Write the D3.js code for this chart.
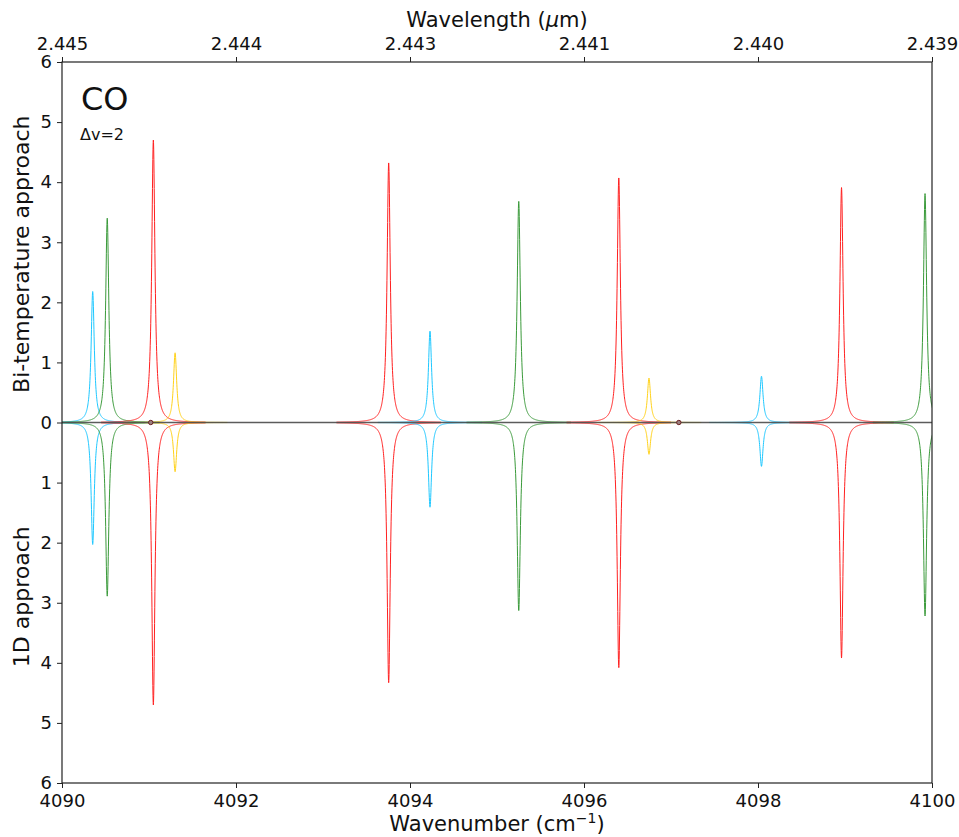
<!DOCTYPE html>
<html>
<head>
<meta charset="utf-8">
<script src="https://cdn.jsdelivr.net/npm/d3@7"></script>
<style>
  body { margin: 0; background: #fff; }
  text { font-family: "DejaVu Sans", sans-serif; fill: #111; }
</style>
</head>
<body>
<div id="container"></div>
<script>
const width = 959; // page size
const height = 837;
const marginLeft = 62;
const marginRight = 27;
const marginTop = 62;
const marginBottom = 54;

// line list (wavenumber in cm-1)
const lineCenters = [4090.353, 4090.52, 4091.05, 4091.30, 4093.755, 4094.23, 4095.25, 4096.40, 4096.747, 4098.04, 4098.96, 4099.92];
const lineColors = ["#1ec8ff", "#3a9a3a", "#ff2020", "#ffd21a", "#ff2020", "#1ec8ff", "#3a9a3a", "#ff2020", "#ffd21a", "#1ec8ff", "#ff2020", "#3a9a3a"];
// peak heights, upper panel (bi-temperature) and lower panel (1D)
const biTempHeights = [2.18, 3.40, 4.70, 1.16, 4.32, 1.52, 3.68, 4.07, 0.74, 0.77, 3.91, 3.81];
const oneDHeights = [2.03, 2.89, 4.70, 0.82, 4.33, 1.41, 3.13, 4.08, 0.53, 0.73, 3.92, 3.22];
const halfWidth = 0.022; // HWHM of each line, cm-1
// tiny lines of a weak species sitting on the baseline
const weakCenters = [4091.02, 4097.09];

const xTicks = [4090, 4092, 4094, 4096, 4098, 4100];
const yTicks = [-6, -5, -4, -3, -2, -1, 0, 1, 2, 3, 4, 5, 6];

const x = d3.scaleLinear()
  .domain([4090, 4100])
  .range([marginLeft, width - marginRight]);

const y = d3.scaleLinear()
  .domain([-6, 6])
  .range([height - marginBottom, marginTop]);

const svg = d3.select("div#container").append("svg")
  .attr("width", width)
  .attr("height", height)
  .attr("viewBox", [0, 0, width, height]);

svg.append("clipPath")
  .attr("id", "plotArea")
  .append("rect")
  .attr("x", marginLeft)
  .attr("y", marginTop)
  .attr("width", width - marginLeft - marginRight)
  .attr("height", height - marginTop - marginBottom);

// Lorentzian profile of one line, sampled around its centre
function profile(center, peak, sign) {
  const pts = d3.range(-0.6, 0.6001, 0.002).map(d => {
    const v = peak * halfWidth * halfWidth / (halfWidth * halfWidth + d * d);
    return [center + d, sign * v];
  });
  return pts;
}

const line = d3.line()
  .x(d => x(d[0]))
  .y(d => y(d[1]));

const curves = svg.append("g")
  .attr("clip-path", "url(#plotArea)")
  .attr("fill", "none")
  .attr("stroke-width", 1);

lineCenters.forEach((c, i) => {
  curves.append("path")
    .attr("d", line(profile(c, biTempHeights[i], 1)))
    .attr("stroke", lineColors[i]);
  curves.append("path")
    .attr("d", line(profile(c, oneDHeights[i], -1)))
    .attr("stroke", lineColors[i]);
});

// zero line, over the far wings
svg.append("line")
  .attr("x1", marginLeft)
  .attr("x2", width - marginRight)
  .attr("y1", y(0))
  .attr("y2", y(0))
  .attr("stroke", "#4a4a4a")
  .attr("stroke-opacity", 0.9)
  .attr("stroke-width", 1.6);

svg.append("g")
  .selectAll("circle")
  .data(weakCenters)
  .join("circle")
  .attr("cx", d => x(d))
  .attr("cy", y(0))
  .attr("r", 2.2)
  .attr("fill", "#9a8080")
  .attr("stroke", "#6a2020")
  .attr("stroke-width", 1);

// frame
svg.append("rect")
  .attr("x", marginLeft)
  .attr("y", marginTop)
  .attr("width", width - marginLeft - marginRight)
  .attr("height", height - marginTop - marginBottom)
  .attr("fill", "none")
  .attr("stroke", "#222")
  .attr("stroke-width", 1.2);

function styleAxis(g) {
  g.select(".domain").remove();
  g.selectAll(".tick line").attr("stroke", "#222").attr("stroke-width", 1);
  g.selectAll(".tick text")
    .attr("font-size", 18)
    .attr("font-family", "DejaVu Sans, sans-serif")
    .attr("fill", "#111");
}

// bottom axis: wavenumber
svg.append("g")
  .attr("transform", `translate(0,${height - marginBottom})`)
  .call(d3.axisBottom(x).tickValues(xTicks).tickFormat(d3.format("d")).tickSize(5).tickPadding(6))
  .call(styleAxis);

// top axis: wavelength in micron at the same positions
svg.append("g")
  .attr("transform", `translate(0,${marginTop})`)
  .call(d3.axisTop(x).tickValues(xTicks).tickFormat(d => d3.format(".3f")(1e4 / d)).tickSize(5).tickPadding(7))
  .call(styleAxis);

// left axis: absolute values on both halves
svg.append("g")
  .attr("transform", `translate(${marginLeft},0)`)
  .call(d3.axisLeft(y).tickValues(yTicks).tickFormat(d => Math.abs(d)).tickSize(5).tickPadding(5))
  .call(styleAxis);

// axis titles
const bottomTitle = svg.append("text")
  .attr("x", (marginLeft + width - marginRight) / 2)
  .attr("y", 831)
  .attr("text-anchor", "middle")
  .attr("font-size", 21);
bottomTitle.append("tspan").text("Wavenumber (cm");
bottomTitle.append("tspan").attr("dy", -8).attr("font-size", 14).text("−1");
bottomTitle.append("tspan").attr("dy", 8).text(")");

const topTitle = svg.append("text")
  .attr("x", (marginLeft + width - marginRight) / 2)
  .attr("y", 27)
  .attr("text-anchor", "middle")
  .attr("font-size", 21);
topTitle.append("tspan").text("Wavelength (");
topTitle.append("tspan").attr("font-style", "italic").text("μ");
topTitle.append("tspan").text("m)");

svg.append("text")
  .attr("transform", `translate(29,${y(3) + 12}) rotate(-90)`)
  .attr("text-anchor", "middle")
  .attr("font-size", 22)
  .text("Bi-temperature approach");

svg.append("text")
  .attr("transform", `translate(29,${y(-3) - 6}) rotate(-90)`)
  .attr("text-anchor", "middle")
  .attr("font-size", 22)
  .text("1D approach");

svg.append("text")
  .attr("x", 81)
  .attr("y", 110)
  .attr("font-size", 32)
  .text("CO");

svg.append("text")
  .attr("x", 80)
  .attr("y", 140)
  .attr("font-size", 16)
  .text("Δv=2");
</script>
</body>
</html>
